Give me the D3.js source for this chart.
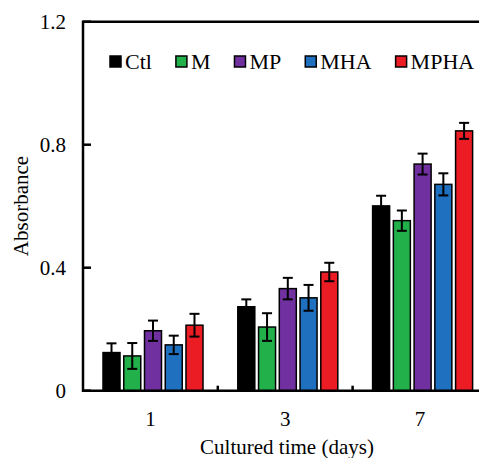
<!DOCTYPE html>
<html>
<head>
<meta charset="utf-8">
<script src="https://cdn.jsdelivr.net/npm/d3@7"></script>
<style>
  body { margin: 0; background: white; }
  text { font-family: "Liberation Serif", "Times New Roman", serif; fill: black; }
</style>
</head>
<body>
<div class="wrapper"></div>
<script>
const days = ["1", "3", "7"];
const groups = ["Ctl", "M", "MP", "MHA", "MPHA"];
const colors = ["#000000", "#22b04b", "#7030a0", "#1f70be", "#ec1c24"];
const yTicks = [0, 0.4, 0.8, 1.2];
const yTickLabels = ["0", "0.4", "0.8", "1.2"];

// mean values, one array per group (days 1, 3, 7)
const ctl = [0.124, 0.273, 0.601];
const m = [0.113, 0.207, 0.553];
const mp = [0.195, 0.332, 0.737];
const mha = [0.149, 0.302, 0.671];
const mpha = [0.213, 0.386, 0.845];

// error bars (+/-)
const ctlErr = [0.03, 0.024, 0.033];
const mErr = [0.042, 0.045, 0.033];
const mpErr = [0.033, 0.035, 0.034];
const mhaErr = [0.03, 0.042, 0.036];
const mphaErr = [0.037, 0.03, 0.026];

const means = [ctl, m, mp, mha, mpha];
const errs = [ctlErr, mErr, mpErr, mhaErr, mphaErr];

const width = 479, height = 458;
const svg = d3.select(".wrapper").append("svg")
  .attr("width", width)
  .attr("height", height);

const plotLeft = 83, plotTop = 21.7, plotBottom = 390.7;

const x0 = d3.scaleBand().domain(days).range([plotLeft, plotLeft + 3 * 134.8]).padding(0);
const x1 = d3.scaleBand().domain(groups).range([20, 120]).paddingInner(0.18);
const y = d3.scaleLinear().domain([0, 1.2]).range([plotBottom, plotTop]);

let rows = [];
days.forEach((d, i) => {
  groups.forEach((g, j) => {
    rows.push({ day: d, group: g, v: means[j][i], e: errs[j][i], c: colors[j] });
  });
});

// bars
svg.selectAll("rect.bar")
  .data(rows)
  .enter()
  .append("rect")
  .attr("class", "bar")
  .attr("x", d => x0(d.day) + x1(d.group))
  .attr("y", d => y(d.v))
  .attr("width", x1.bandwidth())
  .attr("height", d => y(0) - y(d.v))
  .style("fill", d => d.c)
  .style("stroke", "black")
  .style("stroke-width", 1.5);

// error bars
const cap = 5;
const eb = svg.selectAll("g.err").data(rows).enter().append("g")
  .attr("class", "err")
  .attr("transform", d => "translate(" + (x0(d.day) + x1(d.group) + x1.bandwidth() / 2) + ",0)");
eb.append("line")
  .attr("x1", 0).attr("x2", 0)
  .attr("y1", d => y(d.v + d.e)).attr("y2", d => y(d.v - d.e));
eb.append("line")
  .attr("x1", -cap).attr("x2", cap)
  .attr("y1", d => y(d.v + d.e)).attr("y2", d => y(d.v + d.e));
eb.append("line")
  .attr("x1", -cap).attr("x2", cap)
  .attr("y1", d => y(d.v - d.e)).attr("y2", d => y(d.v - d.e));
eb.selectAll("line").attr("stroke", "black").attr("stroke-width", 2);

// frame
const plotRight = x0.range()[1];
svg.append("path")
  .attr("d", `M${plotLeft},${plotBottom}V${plotTop}H${plotRight}V${plotBottom}Z`)
  .attr("fill", "none")
  .attr("stroke", "black")
  .attr("stroke-width", 2.5);

// y ticks (inward)
svg.selectAll("line.ytick")
  .data(yTicks)
  .enter()
  .append("line")
  .attr("x1", plotLeft).attr("x2", plotLeft + 8)
  .attr("y1", d => y(d)).attr("y2", d => y(d))
  .attr("stroke", "black").attr("stroke-width", 2.5);

svg.selectAll("text.ylab")
  .data(yTicks)
  .enter()
  .append("text")
  .attr("x", 66)
  .attr("y", d => y(d) + 7)
  .attr("text-anchor", "end")
  .style("font-size", "21px")
  .text((d, i) => yTickLabels[i]);

// x ticks between groups (inward)
svg.selectAll("line.xtick")
  .data(days.slice(1))
  .enter()
  .append("line")
  .attr("x1", d => x0(d)).attr("x2", d => x0(d))
  .attr("y1", plotBottom).attr("y2", plotBottom - 5)
  .attr("stroke", "black").attr("stroke-width", 2.5);

svg.selectAll("text.xlab")
  .data(days)
  .enter()
  .append("text")
  .attr("x", d => x0(d) + x0.bandwidth() / 2)
  .attr("y", 426)
  .attr("text-anchor", "middle")
  .style("font-size", "21px")
  .text(d => d);

// axis titles
svg.append("text")
  .attr("x", 287)
  .attr("y", 454)
  .attr("text-anchor", "middle")
  .style("font-size", "21px")
  .text("Cultured time (days)");

svg.append("text")
  .attr("transform", "translate(28,206) rotate(-90)")
  .attr("text-anchor", "middle")
  .style("font-size", "21px")
  .text("Absorbance");

// legend
let lx = 110;
const ly = 62;
groups.forEach((g, j) => {
  svg.append("rect")
    .attr("x", lx).attr("y", ly - 6)
    .attr("width", 11).attr("height", 11)
    .style("fill", colors[j])
    .style("stroke", "black")
    .style("stroke-width", 1.5);
  const t = svg.append("text")
    .attr("x", lx + 15)
    .attr("y", ly + 7)
    .style("font-size", "22px")
    .text(g);
  lx = lx + 15 + t.node().getComputedTextLength() + 24;
});
</script>
</body>
</html>
